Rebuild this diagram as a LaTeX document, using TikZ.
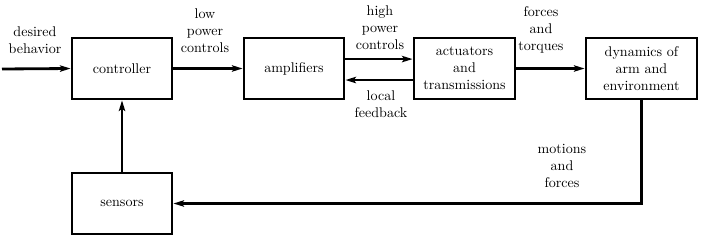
\documentclass[tikz,border=0pt]{standalone}
\usepackage{amsmath,amssymb}
\usepackage{xcolor}
\usetikzlibrary{arrows.meta,positioning,calc}

\begin{document}
\begin{tikzpicture}[>={Stealth[length=7.5pt,width=4.5pt,inset=1.5pt]},x=0.025cm,y=-0.025cm,
  blk/.style={draw,line width=2pt,minimum width=2.5cm,minimum height=1.525cm,align=center,inner sep=1pt},
  sig/.style={->,line width=2pt},
  lbl/.style={align=center,inner sep=0pt}]
\useasboundingbox (0,0) rectangle (704,250);
\node[blk] (ctrl) at (122,68.5) {controller};
\node[blk] (amp) at (294,68.5) {amplifiers};
\node[blk,minimum width=2.525cm] (act) at (464.5,68.5) {actuators\\and\\transmissions};
\node[blk,minimum width=2.775cm] (dyn) at (641.5,68.5) {dynamics of\\arm and\\environment};
\node[blk] (sens) at (122,203.5) {sensors};
\coordinate (in) at (2,69);
% signals
\draw[sig] (in) -- (ctrl.west);
\draw[sig] (ctrl) -- (amp);
\draw[sig] ([yshift=6.7pt]amp.east) -- ([yshift=6.7pt]act.west);
\draw[sig] ([yshift=-8.2pt]act.west) -- ([yshift=-8.2pt]amp.east);
\draw[sig] (act) -- (dyn);
\draw[sig] (dyn.south) |- (sens.east);
\draw[sig] (sens) -- (ctrl);
% labels
\node[lbl] (ldes) at (35,40) {desired\\behavior};
\node[lbl] (llow) at (205,31) {low\\power\\controls};
\node[lbl] (lhigh) at (380,28) {high\\power\\controls};
\node[lbl] (lloc) at (381,104) {local\\feedback};
\node[lbl] (lfor) at (541,30) {forces\\and\\torques};
\node[lbl] (lmot) at (562,166) {motions\\and\\forces};
\end{tikzpicture}
\end{document}
